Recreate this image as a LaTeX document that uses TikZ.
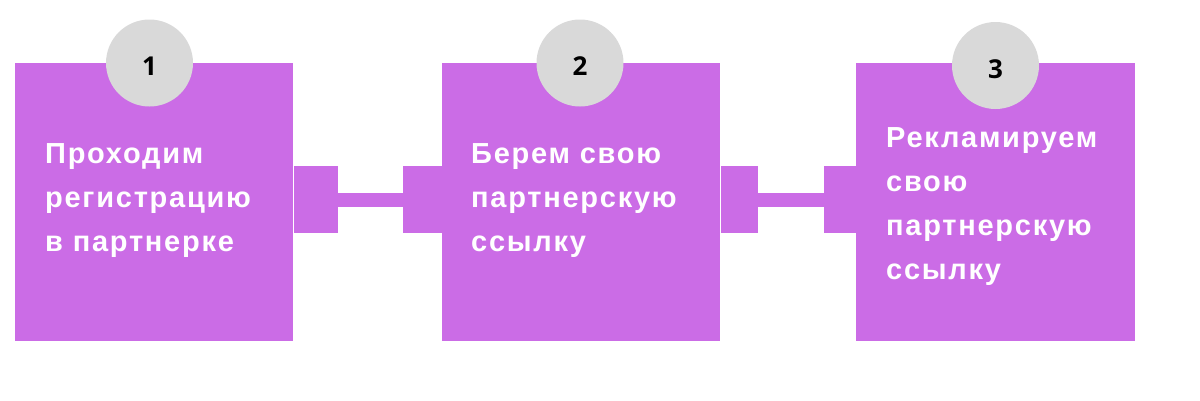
\documentclass[tikz,border=0pt]{standalone}
\usepackage{fontspec}
\setmainfont{Liberation Sans}
\newfontfamily\stepfont[LetterSpace=6]{Liberation Sans Bold}
\newfontfamily\numfont{Open Sans Bold}
\usetikzlibrary{positioning}
\definecolor{stepviolet}{HTML}{CB6CE6}
\definecolor{numgray}{HTML}{D9D9D9}

\begin{document}
\begin{tikzpicture}[x=1pt, y=-1pt,
  stepbox/.style={fill=stepviolet, minimum width=278pt, minimum height=278pt, inner sep=0pt, anchor=north west},
  tabbox/.style={fill=stepviolet, minimum height=67pt, inner sep=0pt},
  numdisk/.style={circle, fill=numgray, minimum size=87pt, inner sep=0pt, text height=25.5pt, text depth=0pt,
    font=\numfont\fontsize{26}{30}\selectfont},
  steptext/.style={text=white, font=\stepfont\fontsize{29}{44}\selectfont, align=left, anchor=base west, inner sep=0pt},
  link/.style={stepviolet, line width=14pt}]
\useasboundingbox (0,0) rectangle (1200,400);
%%%%% Boxes %%%%%
\node[stepbox] (box1) at (15,63) {};
\node[stepbox] (box2) at (442,63) {};
\node[stepbox, minimum width=279pt] (box3) at (856,63) {};
%%%%% Tabs %%%%%
\node[tabbox, minimum width=44pt, anchor=west] (tab1r) at ([yshift=2.5pt]box1.east) {};
\node[tabbox, minimum width=39pt, anchor=east] (tab2l) at ([yshift=2.5pt]box2.west) {};
\node[tabbox, minimum width=37pt, anchor=west] (tab2r) at ([yshift=2.5pt]box2.east) {};
\node[tabbox, minimum width=32pt, anchor=east] (tab3l) at ([yshift=2.5pt]box3.west) {};
\draw[link] (tab1r.east) -- (tab2l.west);
\draw[link] (tab2r.east) -- (tab3l.west);
%%%%% Numbers %%%%%
\node[numdisk] (num1) at (149.5,63) {1};
\node[numdisk] (num2) at (580,63) {2};
\node[numdisk] (num3) at (995.5,65.5) {3};
%%%%% Texts %%%%%
\node[steptext] (text1) at (45,251) {Проходим\\регистрацию\\в партнерке};
\node[steptext] (text2) at (471,251) {Берем свою\\партнерскую\\ссылку};
\node[steptext] (text3) at (886,279) {Рекламируем\\свою\\партнерскую\\ссылку};
\end{tikzpicture}
\end{document}
